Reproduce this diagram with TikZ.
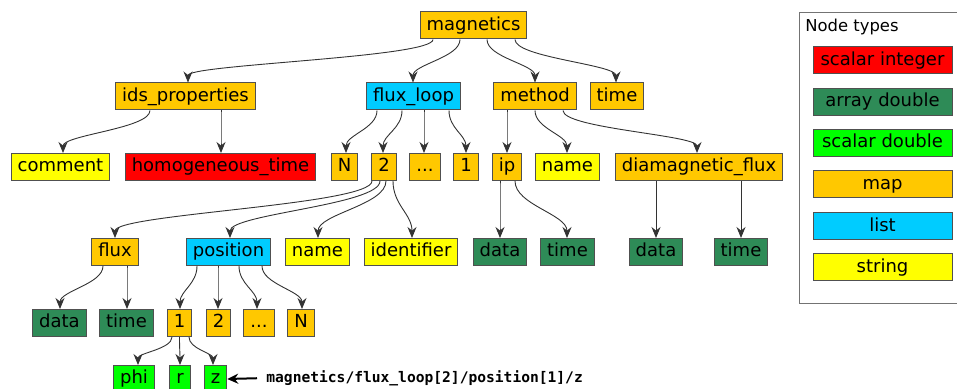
\documentclass[tikz,border=0pt]{standalone}
\usepackage{fontspec}
\setmainfont{DejaVu Sans}
\newfontfamily\pathmono{DejaVu Sans Mono}
\usetikzlibrary{arrows.meta,calc}
\definecolor{cmap}{RGB}{255,200,0}
\definecolor{cint}{RGB}{255,0,0}
\definecolor{carr}{RGB}{46,139,87}
\definecolor{cdbl}{RGB}{0,255,0}
\definecolor{clist}{RGB}{0,204,255}
\definecolor{cstr}{RGB}{255,255,0}
\definecolor{cborder}{RGB}{80,80,80}
\newcommand\tedge[5]{\draw[edge] ($(#1.south)+(#2,0)$) .. controls +(0,#5) and +(0,-#5) .. ($(#3.north)+(#4,0)$);}
\begin{document}
\begin{tikzpicture}[x=0.5pt,y=-0.5pt,
  box/.style={draw=cborder, line width=0.5pt, font=\fontsize{9}{10}\selectfont,
    text height=6.8pt, text depth=1.9pt, inner xsep=3.25pt, inner ysep=2.4pt},
  tmap/.style={box, fill=cmap},
  tint/.style={box, fill=cint},
  tarr/.style={box, fill=carr},
  tdbl/.style={box, fill=cdbl},
  tlist/.style={box, fill=clist},
  tstr/.style={box, fill=cstr},
  legitem/.style={minimum width=69.5pt},
  edge/.style={draw=black!80, line width=0.45pt, -{Stealth[length=5.5pt,width=4.5pt]}}]
\useasboundingbox (0,0) rectangle (957,389);
\clip (0,0) rectangle (957,389);

% row 1
\node[tmap] (mag) at (473.5,25.5) {magnetics};
% row 2
\node[tmap]  (ids)  at (185.5,96.5) {ids\_properties};
\node[tlist] (fl)   at (413.5,96.5) {flux\_loop};
\node[tmap]  (meth) at (535,96.5) {method};
\node[tmap]  (tim)  at (617,96.5) {time};
% row 3
\node[tstr] (comment) at (60.5,167) {comment};
\node[tint] (homog)   at (220.5,167) {homogeneous\_time};
\node[tmap] (flN)     at (344.5,167) {N};
\node[tmap] (fl2)     at (384,167) {2};
\node[tmap] (fldots)  at (425,167) {...};
\node[tmap] (fl1)     at (466,167) {1};
\node[tmap] (ip)      at (507,167) {ip};
\node[tstr] (mname)   at (567.5,167) {name};
\node[tmap] (dia)     at (699,167) {diamagnetic\_flux};
% row 4
\node[tmap]  (flux)  at (115,252) {flux};
\node[tlist] (pos)   at (228.5,252) {position};
\node[tstr]  (fname) at (317.5,252) {name};
\node[tstr]  (ident) at (411,252) {identifier};
\node[tarr]  (ipdata) at (500,252) {data};
\node[tarr]  (iptime) at (567.5,252) {time};
\node[tarr]  (didata) at (656,252) {data};
\node[tarr]  (ditime) at (741,252) {time};
% row 5
\node[tarr] (fxdata) at (59.5,323) {data};
\node[tarr] (fxtime) at (126.5,323) {time};
\node[tmap] (p1)     at (179.5,323) {1};
\node[tmap] (p2)     at (218.5,323) {2};
\node[tmap] (pdots)  at (259,323) {...};
\node[tmap] (pN)     at (301,323) {N};
% row 6
\node[tdbl] (phi) at (134,379) {phi};
\node[tdbl] (r)   at (180,379) {r};
\node[tdbl] (z)   at (215.5,379) {z};
\node[anchor=west, inner xsep=0pt, font=\pathmono\bfseries\fontsize{7.3}{8}\selectfont] (lbl) at (266,378) {magnetics/flux\_loop[2]/position[1]/z};
\draw[line width=1pt, -{Stealth[length=5.5pt,width=5pt]}, shorten <=4.5pt] (lbl.west) -- (z.east);

% edges
\tedge{mag}{-40.5}{ids}{2.5}{18}
\tedge{mag}{-13.5}{fl}{-0.5}{18}
\tedge{mag}{13.5}{meth}{0}{18}
\tedge{mag}{41.5}{tim}{-1}{18}
\tedge{ids}{-35.5}{comment}{2.5}{18}
\tedge{ids}{35.5}{homog}{0.5}{18}
\tedge{fl}{-36.5}{flN}{1.5}{18}
\tedge{fl}{-11.5}{fl2}{-1}{18}
\tedge{fl}{10.5}{fldots}{-1}{18}
\tedge{fl}{35.5}{fl1}{0}{18}
\tedge{meth}{-28}{ip}{0}{18}
\tedge{meth}{0}{mname}{-0.5}{18}
\tedge{meth}{28}{dia}{-2}{18}
\tedge{ip}{-7}{ipdata}{0}{24}
\tedge{ip}{8}{iptime}{-0.5}{24}
\tedge{dia}{-43}{didata}{0}{24}
\tedge{dia}{42}{ditime}{0}{24}
\tedge{fl2}{-12}{flux}{0}{24}
\tedge{fl2}{-4}{pos}{1.5}{24}
\tedge{fl2}{2}{fname}{0.5}{24}
\tedge{fl2}{9}{ident}{1}{24}
\tedge{flux}{-12}{fxdata}{0.5}{18}
\tedge{flux}{12}{fxtime}{0.5}{18}
\tedge{pos}{-31.5}{p1}{0.5}{18}
\tedge{pos}{-10.5}{p2}{-0.5}{18}
\tedge{pos}{10.5}{pdots}{-2}{18}
\tedge{pos}{33.5}{pN}{1}{18}
\tedge{p1}{-7.5}{phi}{4}{12}
\tedge{p1}{0}{r}{0}{12}
\tedge{p1}{9.5}{z}{-2.5}{12}

% legend
\node[draw=black!55, line width=0.6pt, minimum width=80.5pt, minimum height=145.5pt, anchor=north west, inner sep=0pt] (legend) at (799,12) {};
\node[anchor=west, inner sep=0pt, font=\fontsize{8.2}{9}\selectfont] (legtitle) at (805,27) {Node types};
\node[tint,  legitem] (lint)  at (882.5,60.5)  {scalar integer};
\node[tarr,  legitem] (larr)  at (882.5,102)   {array double};
\node[tdbl,  legitem] (ldbl)  at (882.5,143)   {scalar double};
\node[tmap,  legitem] (lmap)  at (882.5,184.5) {map};
\node[tlist, legitem] (llist) at (882.5,226.5) {list};
\node[tstr,  legitem] (lstr)  at (882.5,267.5) {string};
\end{tikzpicture}
\end{document}
